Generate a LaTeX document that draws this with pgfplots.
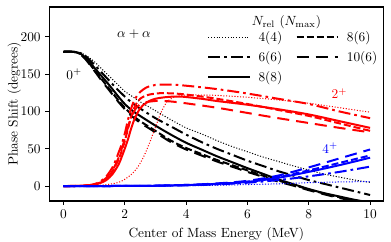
\documentclass[border=0pt]{standalone}
\usepackage{pgfplots}
\pgfplotsset{compat=1.18}
\begin{document}
\begin{tikzpicture}
\tikzset{
  s44/.style={line width=0.75pt, dash pattern=on 0.8pt off 1.3pt},
  s66/.style={line width=1.5pt, dash pattern=on 9pt off 3pt on 2pt off 3pt},
  s88/.style={line width=1.5pt, solid},
  s86/.style={line width=1.5pt, dash pattern=on 5.25pt off 2.25pt},
  s106/.style={line width=1.5pt, dash pattern=on 9pt off 5.25pt},
}
\begin{axis}[
  name=ax,
  scale only axis,
  width=250.5pt, height=145.5pt,
  xmin=-0.46, xmax=10.43,
  ymin=-20, ymax=240,
  xtick={0,2,4,6,8,10},
  ytick={0,50,100,150,200},
  tick align=outside,
  tick pos=left,
  major tick length=3pt,
  axis line style={line width=0.8pt},
  every tick/.style={black, line width=0.8pt},
  xlabel={Center of Mass Energy (MeV)},
  ylabel={Phase Shift (degrees)},
  ylabel style={at={(axis description cs:-0.105,0.5)}, anchor=center},
  every axis plot/.append style={smooth, tension=0.5},
  legend columns=2,
  legend style={draw=none, fill=none, at={(0.46,0.905)}, anchor=north west,
    row sep=2pt, font=\normalsize,
    /tikz/every odd column/.append style={column sep=4pt},
    /tikz/every even column/.append style={column sep=8pt}},
  legend cell align=left,
  legend image code/.code={\draw[#1] (0pt,0pt) -- (31pt,0pt);},
]
\addlegendimage{black, s44}\addlegendentry{4(4)}
\addlegendimage{black, s86}\addlegendentry{8(6)}
\addlegendimage{black, s66}\addlegendentry{6(6)}
\addlegendimage{black, s106}\addlegendentry{10(6)}
\addlegendimage{black, s88}\addlegendentry{8(8)}

% 0+ (black)
\addplot[black, s44, forget plot] coordinates {(0,180)(0.3,180)(0.5,179)(0.7,176)(1,167)(1.25,157)(1.5,147)(1.75,137)(2,127)(2.25,120)(2.5,113)(3,101)(3.5,89)(4,78)(4.5,70)(5,61)(5.5,53)(6,46)(6.5,39)(7,33)(7.5,27)(8,21.5)(8.5,16)(9,12)(9.5,8)(10,5)};
\addplot[black, s66, forget plot] coordinates {(0,180)(0.3,180)(0.5,179)(0.7,175)(1.0,163)(1.25,152)(1.5,141)(1.75,130)(2.0,120)(2.25,111)(2.5,104)(3,91)(3.5,80)(4,69)(4.5,59)(5,50)(5.5,42)(6,34)(6.5,27)(7,20)(7.5,14)(8,8)(8.5,3)(9,-2)(9.5,-7)(10,-12)};
\addplot[black, s86, forget plot] coordinates {(0,180)(0.3,180)(0.5,178)(0.7,172)(1.0,156)(1.25,143)(1.5,130)(1.75,117)(2.0,105)(2.25,95)(2.5,87)(3.0,74)(3.5,61)(4.0,51)(4.5,43)(5,35)(5.5,28)(6,21)(6.5,14)(7,7.5)(7.5,1.5)(8,-4.5)(8.5,-10)(9,-15)(9.5,-19)(10,-23)};
\addplot[black, s106, forget plot] coordinates {(0,180)(0.3,180)(0.5,178)(0.7,171)(1.0,155)(1.25,141)(1.5,128)(1.75,115)(2.0,103)(2.25,93)(2.5,85)(3.0,72)(3.5,59)(4.0,49)(4.5,41)(5,33)(5.5,26)(6,19)(6.5,12.5)(7,6)(7.5,0.5)(8,-5.5)(8.5,-11)(9,-16)(9.5,-20)(10,-24)};
\addplot[black, s88, forget plot] coordinates {(0,180)(0.3,180)(0.5,178.5)(0.7,173)(1.0,159)(1.25,147)(1.5,135)(1.75,122)(2.0,110)(2.25,101)(2.5,94)(3.0,81)(3.5,69)(4.0,58)(4.5,49)(5,40)(5.5,32)(6,24)(6.5,16.5)(7,9)(7.5,2.5)(8,-4)(8.5,-9.5)(9,-14)(9.5,-18.5)(10,-22)};

% 2+ (red)
\addplot[red, s44, forget plot] coordinates {(0,0)(1.0,0.5)(1.5,2.5)(1.8,5)(2.0,9)(2.2,15)(2.4,24)(2.6,38)(2.8,57)(3.0,79)(3.1,90)(3.2,100)(3.3,108)(3.4,114)(3.6,119)(3.8,121)(4.0,122)(4.5,122)(5,121.5)(6,119)(7,115.5)(8,111)(9,105)(10,99)};
\addplot[red, s66, forget plot] coordinates {(0,0)(0.5,0.3)(0.8,1)(1.0,2.5)(1.2,6)(1.4,13)(1.6,25)(1.7,34)(1.8,45)(1.9,56)(2.0,70)(2.1,88)(2.2,103)(2.3,114)(2.4,121)(2.5,126)(2.7,132)(3.0,135.5)(3.5,136)(4,134.5)(5,130)(6,124)(7,117)(8,110)(9,100)(10,91)};
\addplot[red, s86, forget plot] coordinates {(0,0)(0.5,0.2)(1.0,2)(1.2,5)(1.4,10)(1.6,20)(1.8,36)(1.9,47)(2.0,60)(2.1,76)(2.2,92)(2.3,104)(2.4,112)(2.5,117)(2.7,121.5)(3.0,124)(3.3,124.5)(3.8,123.5)(4.5,120)(5,117)(6,110)(7,102)(8,94)(9,84)(10,74)};
\addplot[red, s106, forget plot] coordinates {(0,0)(0.5,0.2)(1.0,2)(1.2,5)(1.4,11)(1.6,21)(1.8,38)(1.9,50)(2.0,63)(2.1,78)(2.2,91)(2.3,100)(2.4,106)(2.5,109.5)(2.7,112.5)(3.0,114)(3.3,114)(3.8,112)(5,105)(6,98)(7,91)(8,84.5)(9,78)(10,72)};
\addplot[red, s88, forget plot] coordinates {(0,0)(0.5,0.2)(0.8,0.8)(1.0,1.8)(1.2,4)(1.4,8)(1.6,16)(1.8,29)(1.9,39)(2.0,50)(2.1,62)(2.2,76)(2.3,88)(2.4,97)(2.5,104)(2.6,108.5)(2.8,114)(3.0,117)(3.3,119)(3.8,120)(4.5,117)(5,114)(6,109)(7,103)(8,96)(9,87)(10,78)};

% 4+ (blue)
\addplot[blue, s44, forget plot] coordinates {(0,0)(2,0.1)(4,0.5)(5,1)(6,2)(7,3)(8,4.5)(9,5.5)(10,6)};
\addplot[blue, s66, forget plot] coordinates {(0,0)(2,0.1)(3,0.4)(4,1)(5,2.2)(6,4.5)(7,8)(8,13)(9,19)(10,26)};
\addplot[blue, s86, forget plot] coordinates {(0,0)(2,0.1)(3,0.5)(4,1.5)(5,3)(6,6)(7,12)(8,21)(9,31)(10,41)};
\addplot[blue, s106, forget plot] coordinates {(0,0)(2,0.1)(3,0.5)(4,1.5)(5,3.5)(6,7)(7,14)(8,25)(9,37)(10,49)};
\addplot[blue, s88, forget plot] coordinates {(0,0)(2,0.1)(3,0.4)(4,1.2)(5,2.8)(6,5.5)(7,11)(8,19)(9,28)(10,38)};

\node at (axis cs:2.3,203) {$\alpha+\alpha$};
\node at (axis cs:0.35,150) {$0^{+}$};
\node[red] at (axis cs:9.0,124) {$2^{+}$};
\node[blue] at (axis cs:8.7,51) {$4^{+}$};
\node at (axis cs:7.27,220) {$N_{\mathrm{rel}}\ (N_{\max})$};
\end{axis}
\pgfresetboundingbox
\path ([xshift=-37pt,yshift=-30.75pt]ax.south west) rectangle ([xshift=5.8pt,yshift=5.25pt]ax.north east);
\end{tikzpicture}
\end{document}
